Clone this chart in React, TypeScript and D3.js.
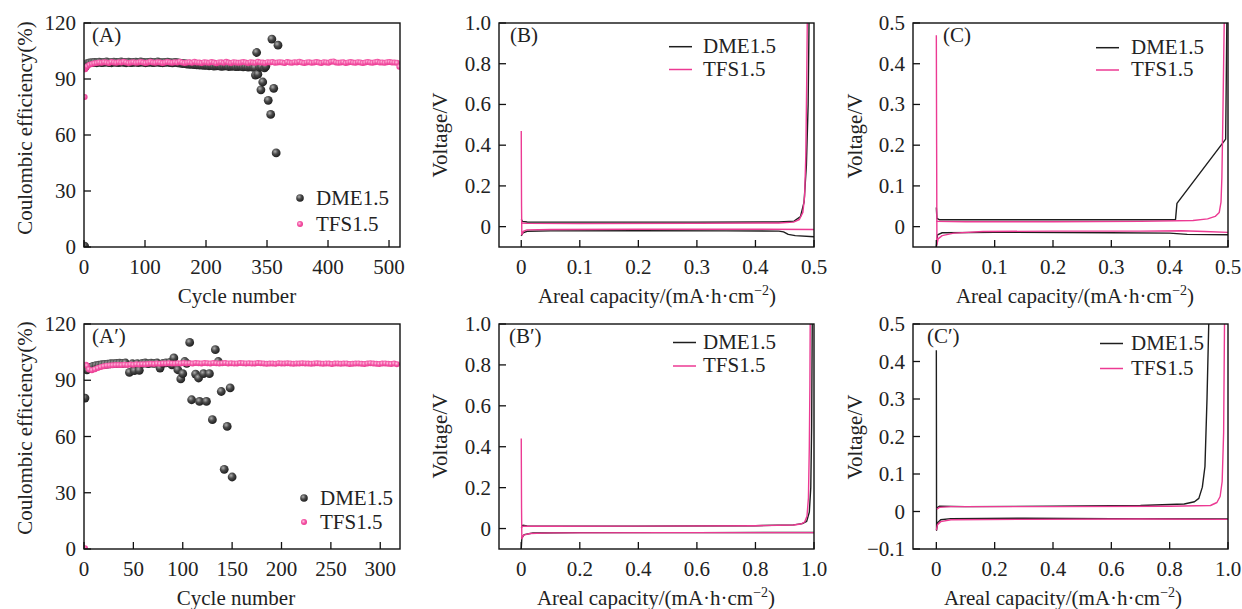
import React from 'react';
import * as d3 from 'd3';

const FONT = '"Liberation Serif", "Times New Roman", Times, serif';
const BLACK = '#1e1e1e';
const PINK = '#ec3a93';

// ---------- Coulombic efficiency data (panel A) ----------
// first cycles listed individually, then regularly sampled cycles
const dmeAFirst: [number, number][] = [[1, 0.5], [2, 96.5]];
const dmeAStart = 5;
const dmeAStep = 4;
const dmeAValues = [
  98.2, 98.6, 98.8, 98.9, 98.7, 99.0, 98.8, 98.9, 99.1, 98.8,
  98.7, 99.0, 98.9, 98.8, 99.1, 98.9, 98.7, 99.0, 98.8, 98.9,
  99.0, 98.8, 99.1, 98.9, 98.7, 98.9, 99.0, 98.8, 98.9, 99.1,
  98.8, 98.7, 98.9, 99.0, 98.8, 98.6, 98.9, 98.7, 98.5, 98.3,
  98.2, 98.0, 97.9, 97.8, 97.7, 97.6, 97.5, 97.4, 97.3,
  97.3, 97.1, 97.2, 96.9, 97.0, 97.1, 96.8, 96.9, 97.0, 96.7,
  96.8, 96.9, 96.6, 96.7, 96.8, 96.5, 96.6, 96.4, 96.5, 96.3,
];
// failing cycles of the DME cell
const dmeATail: [number, number][] = [
  [280, 96.2], [281, 92.1], [283, 104.2], [285, 92.6], [288, 96.3], [290, 84.2],
  [291, 96.5], [293, 88.4], [296, 96.0], [298, 96.8], [302, 78.6], [306, 71.0],
  [308, 111.4], [311, 85.0], [315, 50.4], [318, 108.1],
];
const tfsAFirst: [number, number][] = [[1, 80.3], [2, 95.2], [3, 96.0]];
const tfsAStart = 5;
const tfsAStep = 4;
const tfsAValues = [
  96.8, 97.6, 98.1, 98.4, 98.6, 98.9, 98.7, 99.0, 98.8, 98.6,
  99.1, 98.9, 98.7, 99.0, 98.8, 99.2, 98.9, 98.6, 98.8, 99.0,
  98.7, 98.9, 99.1, 98.8, 98.6, 98.9, 99.2, 98.8, 98.7, 99.0,
  98.9, 98.6, 98.8, 99.1, 98.9, 98.7, 99.0, 98.8, 99.3, 98.9,
  98.6, 98.8, 99.0, 98.7, 99.2, 98.9, 98.8, 98.6, 99.0, 98.9,
  98.7, 99.1, 98.8, 98.5, 98.9, 99.0, 98.7, 99.2, 98.8, 98.6,
  99.0, 98.9, 98.7, 98.8, 99.1, 98.9, 98.6, 99.0, 98.8, 98.7,
  99.2, 98.9, 98.8, 98.6, 99.0, 98.9, 99.1, 98.7, 98.8, 99.0,
  98.9, 98.6, 99.1, 98.8, 98.7, 99.0, 98.9, 99.3, 98.8, 98.6,
  98.9, 99.0, 98.7, 98.9, 99.1, 98.8, 98.6, 99.0, 98.9, 98.7,
  99.2, 99.4, 98.9, 98.7, 98.8, 99.0, 98.6, 98.9, 99.1, 98.8,
  98.7, 99.0, 98.9, 98.6, 98.8, 99.1, 98.9, 98.7, 99.0, 99.2,
  98.8, 98.9, 98.7, 99.0, 99.1, 98.9, 98.8, 98.7, 96.6,
];

// ---------- Coulombic efficiency data (panel A') ----------
const dmeA2: [number, number][] = [
  [1, 80.5], [3, 95.5], [6, 96.8], [9, 97.4], [12, 97.8], [15, 98.0], [18, 98.3],
  [21, 98.5], [24, 98.6], [27, 98.8], [30, 98.9], [33, 99.0], [36, 99.1], [39, 99.0],
  [42, 99.2], [46, 94.2], [49, 98.8], [51, 95.1], [54, 98.9], [56, 95.3], [59, 99.0],
  [62, 99.2], [65, 98.9], [68, 99.1], [71, 99.0], [74, 99.2], [77, 96.5], [80, 99.0],
  [83, 99.3], [87, 99.5], [89, 98.2], [91, 101.9], [95, 95.6], [98, 90.7], [100, 93.5],
  [102, 100.0], [104, 99.0], [107, 110.2], [109, 79.6], [113, 93.3], [116, 91.2],
  [117, 78.7], [121, 93.5], [124, 78.7], [127, 93.5], [130, 69.0], [133, 106.3],
  [136, 100.0], [139, 84.0], [142, 42.5], [145, 65.4], [148, 85.9], [150, 38.4],
];
const tfsA2First: [number, number][] = [[1, 0.4], [2, 98.3], [3, 97.8]];
const tfsA2Start = 5;
const tfsA2Step = 3;
const tfsA2Values = [
  95.8, 95.4, 95.9, 96.5, 97.1, 97.5, 97.8, 97.9, 98.0, 98.1,
  98.2, 98.1, 98.3, 98.2, 98.4, 98.3, 98.5, 98.4, 98.6, 98.5,
  98.7, 98.8, 98.7, 98.9, 98.8, 99.0, 98.9, 99.1, 99.0, 98.9,
  99.1, 99.0, 99.2, 99.0, 99.1, 98.9, 99.2, 99.1, 99.0, 99.2,
  99.1, 99.0, 99.2, 99.1, 98.9, 99.1, 99.2, 99.0, 99.1, 98.9,
  99.0, 99.2, 99.1, 99.0, 99.1, 98.9, 99.0, 99.2, 99.1, 99.0,
  98.8, 98.9, 99.0, 98.8, 99.1, 99.0, 98.9, 99.1, 99.0, 98.8,
  99.0, 98.9, 99.1, 99.0, 98.9, 98.8, 99.0, 99.1, 98.9, 98.8,
  99.0, 98.9, 98.7, 98.9, 99.0, 98.8, 98.9, 99.0, 98.7, 98.8,
  98.9, 99.0, 98.8, 98.7, 98.9, 99.1, 98.9, 98.8, 98.7, 98.9,
  99.0, 98.8, 98.7, 98.9, 98.6,
];

// ---------- Voltage profiles: [areal capacity, voltage] ----------
const dmeBDischarge: [number, number][] = [
  [0, -0.045], [0.003, -0.03], [0.01, -0.023], [0.05, -0.021], [0.2, -0.02], [0.35, -0.021],
  [0.44, -0.022], [0.448, -0.026], [0.456, -0.038], [0.468, -0.044], [0.5, -0.05],
];
const dmeBCharge: [number, number][] = [
  [0, 0.036], [0.002, 0.026], [0.01, 0.023], [0.1, 0.022], [0.3, 0.022], [0.44, 0.023],
  [0.466, 0.027], [0.477, 0.05], [0.483, 0.12], [0.487, 0.3], [0.49, 0.6], [0.4915, 1.0],
];
const tfsBDischarge: [number, number][] = [
  [0, 0.47], [0.0005, 0.1], [0.001, -0.04], [0.004, -0.022], [0.01, -0.016], [0.05, -0.014],
  [0.2, -0.013], [0.4, -0.013], [0.5, -0.014],
];
const tfsBCharge: [number, number][] = [
  [0, 0.018], [0.01, 0.016], [0.1, 0.015], [0.3, 0.016], [0.44, 0.018], [0.465, 0.022],
  [0.475, 0.035], [0.481, 0.07], [0.484, 0.15], [0.486, 0.35], [0.4875, 0.7], [0.4885, 1.0],
];

const dmeCDischarge: [number, number][] = [
  [0, -0.05], [0.002, -0.02], [0.01, -0.015], [0.1, -0.014], [0.3, -0.015], [0.4, -0.016],
  [0.43, -0.019], [0.5, -0.02],
];
const dmeCCharge: [number, number][] = [
  [0, 0.047], [0.001, 0.02], [0.005, 0.017], [0.1, 0.017], [0.3, 0.017], [0.41, 0.017],
  [0.4125, 0.057], [0.496, 0.215], [0.498, 0.5],
];
const tfsCDischarge: [number, number][] = [
  [0, 0.47], [0.0005, 0.2], [0.001, -0.045], [0.003, -0.03], [0.01, -0.022], [0.03, -0.016],
  [0.08, -0.012], [0.2, -0.011], [0.35, -0.011], [0.42, -0.01], [0.46, -0.012], [0.5, -0.014],
];
const tfsCCharge: [number, number][] = [
  [0, 0.013], [0.05, 0.012], [0.2, 0.012], [0.35, 0.013], [0.44, 0.015], [0.465, 0.019],
  [0.478, 0.025], [0.485, 0.035], [0.488, 0.06], [0.4895, 0.12], [0.491, 0.25], [0.4925, 0.4],
  [0.4935, 0.5],
];

const dmeB2Discharge: [number, number][] = [
  [0, -0.1], [0.002, -0.045], [0.01, -0.03], [0.04, -0.022], [0.2, -0.02], [0.6, -0.02], [1.0, -0.019],
];
const dmeB2Charge: [number, number][] = [
  [0, 0.005], [0.005, 0.016], [0.02, 0.013], [0.1, 0.012], [0.4, 0.012], [0.8, 0.014],
  [0.93, 0.018], [0.96, 0.024], [0.975, 0.035], [0.984, 0.08], [0.989, 0.2], [0.992, 0.5],
  [0.994, 1.0],
];
const tfsB2Discharge: [number, number][] = [
  [0, 0.44], [0.001, 0.1], [0.002, -0.05], [0.008, -0.032], [0.03, -0.024], [0.1, -0.021],
  [0.5, -0.02], [1.0, -0.02],
];
const tfsB2Charge: [number, number][] = [
  [0, 0.008], [0.01, 0.012], [0.1, 0.011], [0.4, 0.012], [0.8, 0.014], [0.93, 0.017],
  [0.955, 0.022], [0.968, 0.032], [0.976, 0.06], [0.981, 0.15], [0.984, 0.4], [0.986, 0.7],
  [0.987, 1.0],
];

const dmeC2Discharge: [number, number][] = [
  [0, 0.43], [0.0008, -0.05], [0.004, -0.03], [0.015, -0.022], [0.05, -0.019], [0.3, -0.018],
  [0.6, -0.019], [1.0, -0.02],
];
const dmeC2Charge: [number, number][] = [
  [0.002, 0.01], [0.01, 0.014], [0.1, 0.013], [0.4, 0.014], [0.7, 0.016], [0.85, 0.02],
  [0.885, 0.026], [0.9, 0.035], [0.912, 0.065], [0.921, 0.12], [0.928, 0.3], [0.934, 0.5],
];
const tfsC2Discharge: [number, number][] = [
  [0, -0.05], [0.004, -0.035], [0.015, -0.027], [0.05, -0.022], [0.3, -0.021], [0.7, -0.02],
  [1.0, -0.021],
];
const tfsC2Charge: [number, number][] = [
  [0.002, 0.006], [0.01, 0.011], [0.05, 0.013], [0.4, 0.013], [0.8, 0.014], [0.94, 0.016],
  [0.962, 0.024], [0.973, 0.04], [0.98, 0.08], [0.985, 0.21], [0.988, 0.5],
];

// ---------- Axis ticks ----------
const cycleTicksA = [0, 100, 200, 300, 400, 500];
const cycleTickLabelsA = ['0', '100', '200', '350', '400', '500'];
const cycleTicksA2 = [0, 50, 100, 150, 200, 250, 300];
const ceTicks = [0, 30, 60, 90, 120];
const capTicksHalf = [0, 0.1, 0.2, 0.3, 0.4, 0.5];
const capTicksFull = [0, 0.2, 0.4, 0.6, 0.8, 1.0];
const voltTicksB = [0, 0.2, 0.4, 0.6, 0.8, 1.0];
const voltTicksC = [0, 0.1, 0.2, 0.3, 0.4, 0.5];
const voltTicksC2 = [-0.1, 0, 0.1, 0.2, 0.3, 0.4, 0.5];
const seriesNames = ['DME1.5', 'TFS1.5'];

const sampled = (start: number, step: number, values: number[]): [number, number][] =>
  values.map((v, i) => [start + i * step, v]);

const fmtV = (v: number) =>
  Math.abs(v) < 1e-9 ? '0' : (v < 0 ? '\u2212' : '') + Math.abs(v).toFixed(1);

const FS = 21;

interface Box { left: number; right: number; top: number; bottom: number; }

interface PanelProps {
  id: string;
  box: Box;
  xDomain: [number, number];
  yDomain: [number, number];
  xTicks: number[];
  xLabels: string[];
  yTicks: number[];
  yLabels: string[];
  xTitle: React.ReactNode;
  xTitleX: number;
  yTitle: string;
  yTitleX: number;
  yTitleY: number;
  tag: string;
  tagX: number;
  children: (x: d3.ScaleLinear<number, number>, y: d3.ScaleLinear<number, number>) => React.ReactNode;
}

function Panel(p: PanelProps) {
  const { box } = p;
  const x = d3.scaleLinear().domain(p.xDomain).range([box.left, box.right]);
  const y = d3.scaleLinear().domain(p.yDomain).range([box.bottom, box.top]);
  const tickLen = 7;
  return (
    <g>
      <clipPath id={`clip-${p.id}`}>
        <rect x={box.left} y={box.top} width={box.right - box.left} height={box.bottom - box.top} />
      </clipPath>
      <g clipPath={`url(#clip-${p.id})`}>{p.children(x, y)}</g>
      <rect x={box.left} y={box.top} width={box.right - box.left} height={box.bottom - box.top}
        fill="none" stroke="#111" strokeWidth={1.4} />
      {p.xTicks.map((t, i) => (
        <g key={`xt${i}`}>
          <line x1={x(t)} x2={x(t)} y1={box.bottom} y2={box.bottom - tickLen} stroke="#111" strokeWidth={1.3} />
          <text x={x(t)} y={box.bottom + 27} textAnchor="middle" fontSize={FS} fill="#222">{p.xLabels[i]}</text>
        </g>
      ))}
      {p.yTicks.map((t, i) => (
        <g key={`yt${i}`}>
          <line x1={box.left} x2={box.left + tickLen} y1={y(t)} y2={y(t)} stroke="#111" strokeWidth={1.3} />
          <text x={box.left - 8} y={y(t) + 7} textAnchor="end" fontSize={FS} fill="#222">{p.yLabels[i]}</text>
        </g>
      ))}
      <text x={p.xTitleX} y={box.bottom + 56} textAnchor="middle" fontSize={FS} fill="#222">{p.xTitle}</text>
      <text transform={`translate(${p.yTitleX},${p.yTitleY}) rotate(-90)`} textAnchor="middle"
        dominantBaseline="central" fontSize={FS} fill="#222">{p.yTitle}</text>
      <text x={p.tagX} y={box.top + 19} fontSize={FS} fill="#222">{p.tag}</text>
    </g>
  );
}

const capTitle = (
  <>
    Areal capacity/(mA·h·cm<tspan fontSize={14} dy={-8}>{'\u22122'}</tspan><tspan dy={8}>)</tspan>
  </>
);

function Curves({ x, y, black, pink }: {
  x: d3.ScaleLinear<number, number>; y: d3.ScaleLinear<number, number>;
  black: [number, number][][]; pink: [number, number][][];
}) {
  const line = d3.line<[number, number]>().x(d => x(d[0])).y(d => y(d[1]));
  return (
    <g fill="none" strokeWidth={1.4} strokeLinejoin="round">
      {black.map((s, i) => <path key={`b${i}`} d={line(s) || ''} stroke={BLACK} />)}
      {pink.map((s, i) => <path key={`p${i}`} d={line(s) || ''} stroke={PINK} />)}
    </g>
  );
}

function LineLegend({ x, textX, y1, y2 }: { x: number; textX: number; y1: number; y2: number }) {
  return (
    <g>
      <line x1={x} x2={x + 23} y1={y1} y2={y1} stroke={BLACK} strokeWidth={1.5} />
      <text x={textX} y={y1 + 6} fontSize={FS} fill="#222">{seriesNames[0]}</text>
      <line x1={x} x2={x + 23} y1={y2} y2={y2} stroke={PINK} strokeWidth={1.5} />
      <text x={textX} y={y2 + 6} fontSize={FS} fill="#222">{seriesNames[1]}</text>
    </g>
  );
}

function DotLegend({ x, y1, y2 }: { x: number; y1: number; y2: number }) {
  return (
    <g>
      <circle cx={x} cy={y1} r={3.8} fill="url(#gDark)" />
      <text x={x + 16} y={y1 + 7} fontSize={FS} fill="#222">{seriesNames[0]}</text>
      <circle cx={x} cy={y2} r={3} fill="url(#gPink)" />
      <text x={x + 16} y={y2 + 7} fontSize={FS} fill="#222">{seriesNames[1]}</text>
    </g>
  );
}

function Dots({ x, y, data, kind }: {
  x: d3.ScaleLinear<number, number>; y: d3.ScaleLinear<number, number>;
  data: [number, number][]; kind: 'dark' | 'pink';
}) {
  return (
    <g>
      {data.map((d, i) => (
        <circle key={i} cx={x(d[0])} cy={y(d[1])} r={kind === 'dark' ? 4.4 : 3}
          fill={kind === 'dark' ? 'url(#gDark)' : 'url(#gPink)'} />
      ))}
    </g>
  );
}

export default function App() {
  const dmeA = [...dmeAFirst, ...sampled(dmeAStart, dmeAStep, dmeAValues), ...dmeATail];
  const tfsA = [...tfsAFirst, ...sampled(tfsAStart, tfsAStep, tfsAValues)];
  const tfsA2 = [...tfsA2First, ...sampled(tfsA2Start, tfsA2Step, tfsA2Values)];

  const rowTop1 = { top: 23, bottom: 247 };
  const rowTop2 = { top: 324, bottom: 549 };
  const colA = { left: 84, right: 400 };
  const colB = { left: 499, right: 814 };
  const colC = { left: 913, right: 1228 };

  const ceLabels = ceTicks.map(String);

  return (
    <svg width={1242} height={609} style={{ position: 'absolute', left: 0, top: 0, background: '#fff' }}
      fontFamily={FONT}>
      <defs>
        <radialGradient id="gDark" cx="0.38" cy="0.34" r="0.7">
          <stop offset="0" stopColor="#b0b0b0" />
          <stop offset="0.45" stopColor="#4a4a4a" />
          <stop offset="1" stopColor="#1a1a1a" />
        </radialGradient>
        <radialGradient id="gPink" cx="0.4" cy="0.4" r="0.65">
          <stop offset="0" stopColor="#ffc4e2" />
          <stop offset="0.5" stopColor="#f457a7" />
          <stop offset="1" stopColor="#e8348c" />
        </radialGradient>
      </defs>
      <rect width={1242} height={609} fill="#fff" />

      {/* (A) */}
      <Panel id="a" box={{ ...colA, ...rowTop1 }} xDomain={[0, 518]} yDomain={[0, 120]}
        xTicks={cycleTicksA} xLabels={cycleTickLabelsA} yTicks={ceTicks} yLabels={ceLabels}
        xTitle="Cycle number" xTitleX={237} yTitle="Coulombic efficiency(%)" yTitleX={25} yTitleY={128}
        tag="(A)" tagX={92}>
        {(x, y) => (
          <g>
            <Dots x={x} y={y} data={dmeA} kind="dark" />
            <Dots x={x} y={y} data={tfsA} kind="pink" />
          </g>
        )}
      </Panel>
      <DotLegend x={300} y1={198} y2={224} />

      {/* (B) */}
      <Panel id="b" box={{ ...colB, ...rowTop1 }} xDomain={[-0.038, 0.5]} yDomain={[-0.1, 1.0]}
        xTicks={capTicksHalf} xLabels={capTicksHalf.map(fmtV)} yTicks={voltTicksB} yLabels={voltTicksB.map(fmtV)}
        xTitle={capTitle} xTitleX={657} yTitle="Voltage/V" yTitleX={440} yTitleY={135}
        tag="(B)" tagX={510}>
        {(x, y) => <Curves x={x} y={y} black={[dmeBDischarge, dmeBCharge]} pink={[tfsBDischarge, tfsBCharge]} />}
      </Panel>
      <LineLegend x={669} textX={703} y1={46.7} y2={69.5} />

      {/* (C) */}
      <Panel id="c" box={{ ...colC, ...rowTop1 }} xDomain={[-0.04, 0.5]} yDomain={[-0.05, 0.5]}
        xTicks={capTicksHalf} xLabels={capTicksHalf.map(fmtV)} yTicks={voltTicksC} yLabels={voltTicksC.map(fmtV)}
        xTitle={capTitle} xTitleX={1075} yTitle="Voltage/V" yTitleX={855} yTitleY={136}
        tag="(C)" tagX={943}>
        {(x, y) => <Curves x={x} y={y} black={[dmeCDischarge, dmeCCharge]} pink={[tfsCDischarge, tfsCCharge]} />}
      </Panel>
      <LineLegend x={1096} textX={1131} y1={47.7} y2={70} />

      {/* (A') */}
      <Panel id="a2" box={{ ...colA, ...rowTop2 }} xDomain={[0, 320]} yDomain={[0, 120]}
        xTicks={cycleTicksA2} xLabels={cycleTicksA2.map(String)} yTicks={ceTicks} yLabels={ceLabels}
        xTitle="Cycle number" xTitleX={236} yTitle="Coulombic efficiency(%)" yTitleX={25} yTitleY={428}
        tag={'(A\u2032)'} tagX={92}>
        {(x, y) => (
          <g>
            <Dots x={x} y={y} data={dmeA2} kind="dark" />
            <Dots x={x} y={y} data={tfsA2} kind="pink" />
          </g>
        )}
      </Panel>
      <DotLegend x={304} y1={498} y2={522} />

      {/* (B') */}
      <Panel id="b2" box={{ ...colB, ...rowTop2 }} xDomain={[-0.076, 1.0]} yDomain={[-0.1, 1.0]}
        xTicks={capTicksFull} xLabels={capTicksFull.map(fmtV)} yTicks={voltTicksB} yLabels={voltTicksB.map(fmtV)}
        xTitle={capTitle} xTitleX={656} yTitle="Voltage/V" yTitleX={440} yTitleY={436}
        tag={'(B\u2032)'} tagX={509}>
        {(x, y) => <Curves x={x} y={y} black={[dmeB2Discharge, dmeB2Charge]} pink={[tfsB2Discharge, tfsB2Charge]} />}
      </Panel>
      <LineLegend x={673} textX={703} y1={342.5} y2={366} />

      {/* (C') */}
      <Panel id="c2" box={{ ...colC, ...rowTop2 }} xDomain={[-0.08, 1.0]} yDomain={[-0.1, 0.5]}
        xTicks={capTicksFull} xLabels={capTicksFull.map(fmtV)} yTicks={voltTicksC2} yLabels={voltTicksC2.map(fmtV)}
        xTitle={capTitle} xTitleX={1063} yTitle="Voltage/V" yTitleX={855} yTitleY={437}
        tag={'(C\u2032)'} tagX={927}>
        {(x, y) => <Curves x={x} y={y} black={[dmeC2Discharge, dmeC2Charge]} pink={[tfsC2Discharge, tfsC2Charge]} />}
      </Panel>
      <LineLegend x={1100} textX={1131} y1={343.5} y2={368.5} />
    </svg>
  );
}
